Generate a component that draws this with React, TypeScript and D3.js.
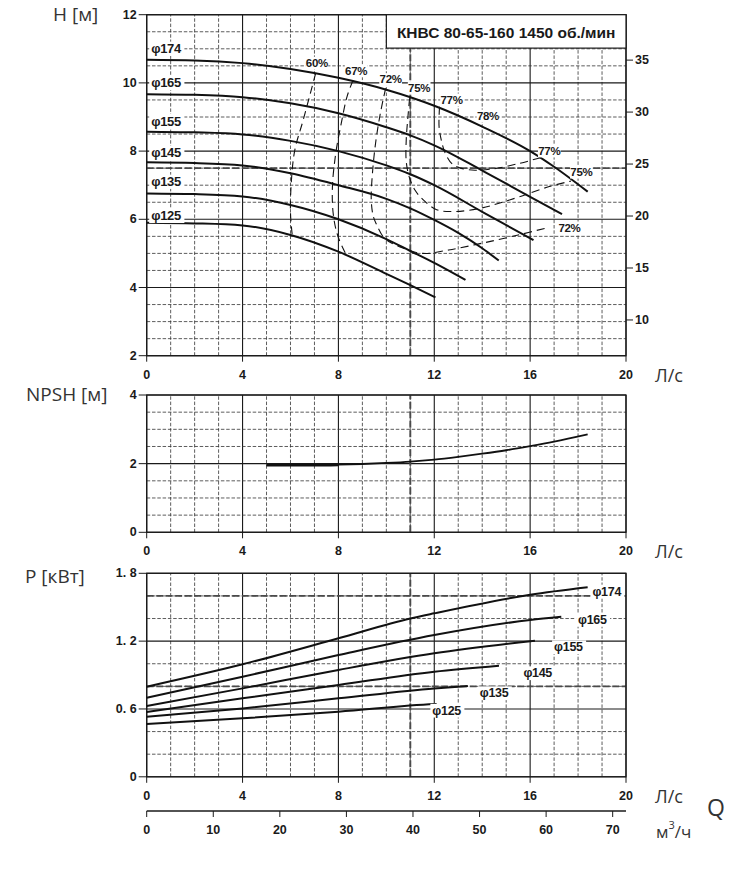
import React from 'react';
import * as d3 from 'd3';

// ---------- DATA ----------
const qTicks = [0, 4, 8, 12, 16, 20];
const m3hTicks = [0, 10, 20, 30, 40, 50, 60, 70];
const headTicks = [2, 4, 6, 8, 10, 12];
const ftTicks = [10, 15, 20, 25, 30, 35];
const npshTicks = [0, 2, 4];
const powerTicks = [0, 0.6, 1.2, 1.8];
const powerTickLabels = ['0', '0. 6', '1. 2', '1. 8'];

const diameters = ['174', '165', '155', '145', '135', '125'];

const head174 = [[0, 10.68], [2, 10.66], [4, 10.58], [6, 10.41], [8, 10.15], [10, 9.8], [12, 9.33], [14, 8.72], [16, 8.0], [17, 7.54], [18.4, 6.81]];
const head165 = [[0, 9.67], [2, 9.65], [4, 9.58], [6, 9.4], [8, 9.11], [10, 8.7], [11, 8.46], [12, 8.17], [14, 7.43], [16, 6.66], [17.33, 6.15]];
const head155 = [[0, 8.57], [2, 8.55], [4, 8.49], [6, 8.3], [8, 8.0], [10, 7.58], [11, 7.32], [12, 7.0], [14, 6.22], [16.14, 5.39]];
const head145 = [[0, 7.67], [2, 7.65], [4, 7.58], [6, 7.35], [8, 7.0], [10, 6.6], [11, 6.32], [12, 5.98], [13, 5.6], [14, 5.15], [14.69, 4.79]];
const head135 = [[0, 6.76], [2, 6.74], [4, 6.67], [6, 6.42], [8, 6.0], [10, 5.42], [11, 5.07], [12, 4.72], [13.3, 4.22]];
const head125 = [[0, 5.9], [2, 5.88], [4, 5.82], [6, 5.54], [8, 5.05], [10, 4.4], [11, 4.07], [12.05, 3.71]];
const headCurves = [head174, head165, head155, head145, head135, head125];
const headLabelH = [11.0, 10.0, 8.88, 7.95, 7.1, 6.1];

const eff60 = [[7.05, 10.28], [6.53, 8.91], [6.18, 8.03], [6.04, 7.15], [6.0, 6.18], [6.08, 5.49]];
const eff67 = [[8.61, 10.08], [8.36, 9.6], [8.12, 8.82], [7.89, 7.94], [7.75, 6.96], [7.78, 6.18], [7.94, 5.59], [8.19, 5.15], [8.36, 4.92]];
const eff72 = [[9.97, 9.84], [9.75, 9.11], [9.55, 8.23], [9.42, 7.35], [9.37, 6.57], [9.45, 6.1], [9.57, 5.88], [9.93, 5.44], [10.6, 5.18], [11.5, 5.0], [12.6, 5.1], [14.0, 5.3], [15.5, 5.54], [16.7, 5.75]];
const eff75 = [[10.97, 9.55], [10.9, 9.0], [10.83, 8.33], [10.83, 7.7], [10.95, 7.25], [11.2, 6.85], [11.5, 6.6], [12.1, 6.28], [12.9, 6.23], [13.9, 6.32], [14.7, 6.47], [15.55, 6.66], [16.8, 6.96], [17.7, 7.12]];
const eff77 = [[12.22, 9.3], [12.2, 8.72], [12.3, 8.3], [12.45, 7.95], [12.75, 7.62], [13.1, 7.5], [13.7, 7.44], [14.45, 7.48], [15.55, 7.64], [16.5, 7.82]];
const effCurves = [eff60, eff67, eff72, eff75, eff77];

const effLabels = ['60%', '67%', '72%', '75%', '77%', '78%', '77%', '75%', '72%'];
const effLabelQ = [7.1, 8.74, 10.18, 11.37, 12.72, 14.24, 16.8, 18.14, 17.64];
const effLabelH = [10.58, 10.35, 10.1, 9.84, 9.5, 9.03, 8.0, 7.38, 5.75];

const npsh = [[5, 1.96], [6, 1.96], [7, 1.96], [8, 1.97], [9, 1.99], [10, 2.02], [11, 2.06], [12, 2.12], [13, 2.2], [14, 2.29], [15, 2.39], [16, 2.51], [17, 2.64], [18.4, 2.85]];

const power174 = [[0, 0.797], [4, 0.995], [8, 1.225], [11, 1.4], [12, 1.446], [16, 1.61], [18.4, 1.676]];
const power165 = [[0, 0.7], [4, 0.885], [8, 1.077], [12, 1.254], [16, 1.387], [17.3, 1.416]];
const power155 = [[0, 0.626], [4, 0.782], [8, 0.945], [12, 1.092], [16.2, 1.204]];
const power145 = [[0, 0.573], [4, 0.694], [8, 0.812], [12, 0.93], [14.7, 0.983]];
const power135 = [[0, 0.532], [4, 0.605], [8, 0.694], [12, 0.782], [13.4, 0.803]];
const power125 = [[0, 0.467], [4, 0.517], [8, 0.576], [12, 0.644], [12.1, 0.645]];
const powerCurves = [power174, power165, power155, power145, power135, power125];
const powerLabelQ = [18.6, 18.0, 17.0, 15.72, 13.9, 11.92];
const powerLabelP = [1.638, 1.388, 1.146, 0.916, 0.739, 0.585];

const dutyQ = 11;
const dutyH = 7.5;
const dutyP = [1.6, 0.8];

const title = 'КНВС 80-65-160 1450 об./мин';

// ---------- LAYOUT ----------
const W = 739, H = 884;
const x = d3.scaleLinear().domain([0, 20]).range([146.7, 626]);
const xM3 = d3.scaleLinear().domain([0, 72]).range([146.7, 626]);
const yH = d3.scaleLinear().domain([2, 12]).range([355.7, 14.7]);
const yFt = d3.scaleLinear().domain([2 / 0.3048, 12 / 0.3048]).range([355.7, 14.7]);
const yN = d3.scaleLinear().domain([0, 4]).range([532.3, 395]);
const yP = d3.scaleLinear().domain([0, 1.8]).range([776.8, 573.3]);

const tickFont = '"Liberation Sans", Arial, sans-serif';
const labelFont = '"Open Sans", "Noto Sans", sans-serif';
const ink = '#1a1a1a';

function Grid({ y, min, max, minor, major, dutyLines }) {
  const xs = d3.range(0, 21);
  const ys = d3.range(min, max + 1e-9, minor);
  const isMajor = (v) => Math.abs(v / major - Math.round(v / major)) < 1e-6;
  const [y0, y1] = [y(min), y(max)];
  return (
    <g>
      {xs.map((q) => (
        <line key={'v' + q} x1={x(q)} x2={x(q)} y1={y0} y2={y1}
          stroke={q % 4 === 0 ? ink : '#333'} strokeWidth={q % 4 === 0 ? 1.1 : 0.8}
          strokeDasharray={q % 4 === 0 ? null : '3.5,1.8'} />
      ))}
      {ys.map((v, i) => (
        <line key={'h' + i} x1={x(0)} x2={x(20)} y1={y(v)} y2={y(v)}
          stroke={isMajor(v) ? ink : '#333'} strokeWidth={isMajor(v) ? 1.1 : 0.8}
          strokeDasharray={isMajor(v) ? null : '3.5,1.8'} />
      ))}
      <line x1={x(dutyQ)} x2={x(dutyQ)} y1={y0} y2={y1} stroke="#4a4a4a" strokeWidth={1.9} strokeDasharray="7,2.5" />
      {(dutyLines || []).map((v, i) => (
        <line key={'d' + i} x1={x(0)} x2={x(20)} y1={y(v)} y2={y(v)} stroke="#4a4a4a" strokeWidth={1.9} strokeDasharray="7,2.5" />
      ))}
      <rect x={x(0)} y={y1} width={x(20) - x(0)} height={y0 - y1} fill="none" stroke={ink} strokeWidth={1.3} />
    </g>
  );
}

function XAxis({ y0, labelY }) {
  return (
    <g>
      {d3.range(0, 21).map((q) => (
        <line key={q} x1={x(q)} x2={x(q)} y1={y0} y2={y0 + (q % 4 === 0 ? 6 : 0)} stroke={ink} strokeWidth={1} />
      ))}
      {qTicks.map((q) => (
        <text key={'t' + q} x={x(q)} y={labelY} textAnchor="middle" dominantBaseline="central"
          fontFamily={tickFont} fontWeight="bold" fontSize={12.5} fill={ink}>{q}</text>
      ))}
      <text x={655} y={labelY} dominantBaseline="central" fontFamily={labelFont} fontSize={18} fill="#333">Л/с</text>
    </g>
  );
}

function YAxis({ y, ticks, labels }) {
  return (
    <g>
      {ticks.map((v, i) => (
        <g key={i}>
          <line x1={x(0) - 8} x2={x(0)} y1={y(v)} y2={y(v)} stroke={ink} strokeWidth={1} />
          <text x={x(0) - 10} y={y(v)} textAnchor="end" dominantBaseline="central"
            fontFamily={tickFont} fontWeight="bold" fontSize={12.5} fill={ink}>{labels ? labels[i] : v}</text>
        </g>
      ))}
    </g>
  );
}

function BgText({ tx, ty, text, size, anchor = 'start', pad = 2 }) {
  const w = text.length * size * 0.6;
  const left = anchor === 'middle' ? tx - w / 2 : tx;
  return (
    <g>
      <rect x={left - pad} y={ty - size * 0.55} width={w + pad * 2} height={size * 1.1} fill="#fff" />
      <text x={tx} y={ty} textAnchor={anchor} dominantBaseline="central"
        fontFamily={tickFont} fontWeight="bold" fontSize={size} fill={ink} letterSpacing={-0.3}>{text}</text>
    </g>
  );
}

export default function App() {
  const headLine = d3.line().x((d) => x(d[0])).y((d) => yH(d[1])).curve(d3.curveMonotoneX);
  const effLine = d3.line().x((d) => x(d[0])).y((d) => yH(d[1])).curve(d3.curveCatmullRom.alpha(0.5));
  const npshLine = d3.line().x((d) => x(d[0])).y((d) => yN(d[1])).curve(d3.curveMonotoneX);
  const powLine = d3.line().x((d) => x(d[0])).y((d) => yP(d[1])).curve(d3.curveMonotoneX);

  return (
    <svg width={W} height={H} viewBox={`0 0 ${W} ${H}`}
      style={{ position: 'absolute', left: 0, top: 0, background: '#fff' }}>
      <rect x={0} y={0} width={W} height={H} fill="#fff" />

      {/* ===== HEAD CHART ===== */}
      <Grid y={yH} min={2} max={12} minor={0.5} major={2} dutyLines={[dutyH]} />
      {effCurves.map((c, i) => (
        <path key={'e' + i} d={effLine(c)} fill="none" stroke="#111" strokeWidth={1.1} strokeDasharray="8,5" />
      ))}
      {headCurves.map((c, i) => (
        <path key={'h' + i} d={headLine(c)} fill="none" stroke="#111" strokeWidth={2} />
      ))}
      {diameters.map((d, i) => (
        <BgText key={'dl' + i} tx={x(0) + 4.5} ty={yH(headLabelH[i])} text={'φ' + d} size={13} />
      ))}
      {effLabels.map((t, i) => (
        <BgText key={'el' + i} tx={x(effLabelQ[i])} ty={yH(effLabelH[i])} text={t} size={11.5} anchor="middle" pad={1} />
      ))}
      {/* title box */}
      <rect x={x(10)} y={yH(12)} width={x(20) - x(10)} height={yH(11.02) - yH(12)} fill="#fff" stroke={ink} strokeWidth={1.2} />
      <text x={(x(10) + x(20)) / 2} y={(yH(12) + yH(11.02)) / 2 + 1} textAnchor="middle" dominantBaseline="central"
        fontFamily={tickFont} fontWeight="bold" fontSize={15.5} fill={ink}>{title}</text>
      <YAxis y={yH} ticks={headTicks} />
      {ftTicks.map((f) => (
        <g key={'ft' + f}>
          <line x1={x(20)} x2={x(20) + 7} y1={yFt(f)} y2={yFt(f)} stroke={ink} strokeWidth={1} />
          <text x={x(20) + 9} y={yFt(f)} dominantBaseline="central" fontFamily={tickFont}
            fontWeight="bold" fontSize={12.5} fill={ink}>{f}</text>
        </g>
      ))}
      <XAxis y0={yH(2)} labelY={375} />
      <text x={53} y={14} dominantBaseline="central" fontFamily={labelFont} fontSize={19} fill="#333">H [м]</text>

      {/* ===== NPSH CHART ===== */}
      <Grid y={yN} min={0} max={4} minor={0.5} major={2} />
      <path d={npshLine(npsh)} fill="none" stroke="#111" strokeWidth={1.8} />
      <path d={npshLine(npsh.filter((d) => d[0] <= 8))} fill="none" stroke="#111" strokeWidth={3} />
      <YAxis y={yN} ticks={npshTicks} />
      <XAxis y0={yN(0)} labelY={551} />
      <text x={26} y={394} dominantBaseline="central" fontFamily={labelFont} fontSize={19} fill="#333">NPSH [м]</text>

      {/* ===== POWER CHART ===== */}
      <Grid y={yP} min={0} max={1.8} minor={0.2} major={0.6} dutyLines={dutyP} />
      {powerCurves.map((c, i) => (
        <path key={'p' + i} d={powLine(c)} fill="none" stroke="#111" strokeWidth={2} />
      ))}
      {diameters.map((d, i) => (
        <BgText key={'pl' + i} tx={x(powerLabelQ[i])} ty={yP(powerLabelP[i])} text={'φ' + d} size={12.5} />
      ))}
      <YAxis y={yP} ticks={powerTicks} labels={powerTickLabels} />
      <XAxis y0={yP(0)} labelY={796} />
      <text x={25} y={576} dominantBaseline="central" fontFamily={labelFont} fontSize={19} fill="#333">P [кВт]</text>

      {/* ===== m3/h axis ===== */}
      <line x1={x(0)} x2={x(20)} y1={811} y2={811} stroke={ink} strokeWidth={1.3} />
      {m3hTicks.map((v) => (
        <g key={'m' + v}>
          <line x1={xM3(v)} x2={xM3(v)} y1={811} y2={817} stroke={ink} strokeWidth={1} />
          <text x={xM3(v)} y={830} textAnchor="middle" dominantBaseline="central" fontFamily={tickFont}
            fontWeight="bold" fontSize={12.5} fill={ink}>{v}</text>
        </g>
      ))}
      <text x={656} y={831} dominantBaseline="central" fontFamily={labelFont} fontSize={17} fill="#333">
        м<tspan dy={-7} fontSize={11}>3</tspan><tspan dy={7}>/ч</tspan>
      </text>
      <text x={707} y={807} dominantBaseline="central" fontFamily={labelFont} fontSize={23} fill="#333">Q</text>
    </svg>
  );
}
